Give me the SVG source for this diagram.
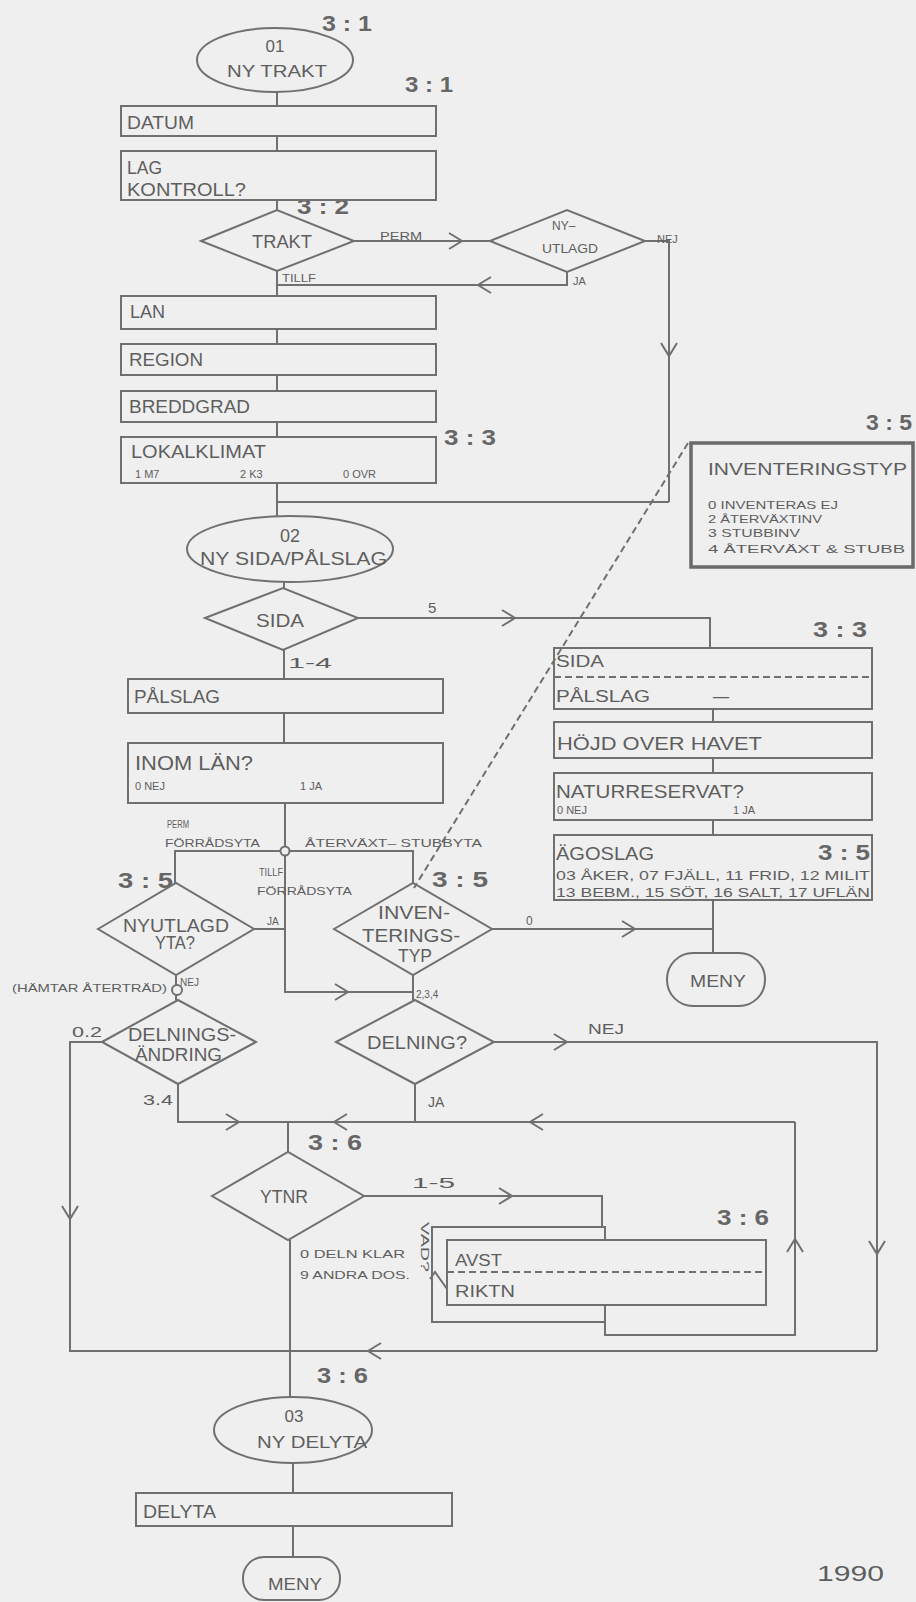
<svg xmlns="http://www.w3.org/2000/svg" width="916" height="1602" viewBox="0 0 916 1602">
<defs>
<style>
.ln{stroke:#707070;stroke-width:2;fill:none}
.bx{stroke:#707070;stroke-width:2;fill:none}
.bxf{stroke:#707070;stroke-width:2;fill:#efefef}
.dash{stroke:#707070;stroke-width:2;fill:none;stroke-dasharray:7 4}
.t{font-family:"Liberation Sans",Arial,sans-serif;fill:#5e5e5e}
.b{font-size:18px}
.s{font-size:11px}
.m{font-size:15px}
.r{font-family:"Liberation Sans",Arial,sans-serif;font-size:22px;font-weight:bold;fill:#666}
.mid{text-anchor:middle}
</style>
<path id="chev" d="M-7,-8 L6,0 L-7,8" fill="none" stroke="#707070" stroke-width="2"/>
</defs>
<rect width="916" height="1602" fill="#efefef"/>

<g id="connectors">
<path class="ln" d="M277,92V106 M277,136V151 M277,200V210"/>
<path class="ln" d="M354,241H490"/>
<path class="ln" d="M645,241H669V502"/>
<path class="ln" d="M567,272V285H277"/>
<path class="ln" d="M277,271V296 M277,329V344 M277,375V391 M277,422V437 M277,483V516"/>
<path class="ln" d="M277,502H669"/>
<path class="ln" d="M284,582V588"/>
<path class="ln" d="M358,618H710V648"/>
<path class="ln" d="M284,650V679 M284,713V743"/>
<path class="ln" d="M285,803V992H413"/>
<path class="ln" d="M175,883V851H413V883"/>
<path class="ln" d="M254,929H285"/>
<path class="ln" d="M176,975V1000"/>
<path class="ln" d="M413,975V1000"/>
<path class="ln" d="M492,929H713"/>
<path class="ln" d="M713,900V953 M713,709V722 M713,758V773 M713,820V835"/>
<path class="ln" d="M102,1042H70V1351H877"/>
<path class="ln" d="M178,1084V1122H795"/>
<path class="ln" d="M415,1084V1122"/>
<path class="ln" d="M494,1042H877V1351"/>
<path class="ln" d="M288,1122V1152"/>
<path class="ln" d="M364,1196H602V1227"/>
<path class="ln" d="M605,1305V1335H795V1122"/>
<path class="ln" d="M290,1240V1397"/>
<path class="ln" d="M293,1462V1493 M293,1526V1557"/>
<path class="dash" d="M688,443L414,888"/>
<circle cx="285" cy="851" r="4.5" fill="#efefef" stroke="#707070" stroke-width="2"/>
<circle cx="177" cy="990" r="5" fill="#efefef" stroke="#707070" stroke-width="2"/>
<use href="#chev" transform="translate(456,241)"/>
<use href="#chev" transform="translate(484,285) rotate(180)"/>
<use href="#chev" transform="translate(669,350) rotate(90)"/>
<use href="#chev" transform="translate(509,618)"/>
<use href="#chev" transform="translate(342,992)"/>
<use href="#chev" transform="translate(629,929)"/>
<use href="#chev" transform="translate(561,1042)"/>
<use href="#chev" transform="translate(233,1122)"/>
<use href="#chev" transform="translate(340,1122) rotate(180)"/>
<use href="#chev" transform="translate(536,1122) rotate(180)"/>
<use href="#chev" transform="translate(506,1196)"/>
<use href="#chev" transform="translate(795,1245) rotate(-90)"/>
<use href="#chev" transform="translate(877,1248) rotate(90)"/>
<use href="#chev" transform="translate(70,1213) rotate(90)"/>
<use href="#chev" transform="translate(374,1351) rotate(180)"/>
<path class="ln" d="M430,1279L435,1272L447,1289"/>
</g>

<g id="edge-labels">
<text class="t" x="380" y="240" font-size="11" textLength="42" lengthAdjust="spacingAndGlyphs">PERM</text>
<text class="t s" x="657" y="243">NEJ</text>
<text class="t s" x="573" y="285">JA</text>
<text class="t" x="282" y="282" font-size="10" textLength="34" lengthAdjust="spacingAndGlyphs">TILLF</text>
<text class="t m" x="428" y="613">5</text>
<text class="t m" x="288" y="668" textLength="44" lengthAdjust="spacingAndGlyphs">1-4</text>
<text class="t" x="167" y="828" font-size="10" textLength="22" lengthAdjust="spacingAndGlyphs">PERM</text>
<text class="t" x="165" y="847" font-size="10.5" textLength="95" lengthAdjust="spacingAndGlyphs">FÖRRÅDSYTA</text>
<text class="t" x="305" y="847" font-size="10.5" textLength="177" lengthAdjust="spacingAndGlyphs">ÅTERVÄXT– STUBBYTA</text>
<text class="t" x="259" y="876" font-size="10" textLength="24" lengthAdjust="spacingAndGlyphs">TILLF</text>
<text class="t" x="257" y="895" font-size="10.5" textLength="95" lengthAdjust="spacingAndGlyphs">FÖRRÅDSYTA</text>
<text class="t" x="267" y="925" font-size="10">JA</text>
<text class="t" x="180" y="986" font-size="10">NEJ</text>
<text class="t s" x="12" y="992" textLength="155" lengthAdjust="spacingAndGlyphs">(HÄMTAR ÅTERTRÄD)</text>
<text class="t" x="416" y="998" font-size="10">2,3,4</text>
<text class="t" x="526" y="925" font-size="12">0</text>
<text class="t m" x="72" y="1037" textLength="30" lengthAdjust="spacingAndGlyphs">0.2</text>
<text class="t m" x="143" y="1105" textLength="30" lengthAdjust="spacingAndGlyphs">3.4</text>
<text class="t" x="428" y="1107" font-size="14">JA</text>
<text class="t m" x="588" y="1034" textLength="36" lengthAdjust="spacingAndGlyphs">NEJ</text>
<text class="t m" x="412" y="1188" textLength="43" lengthAdjust="spacingAndGlyphs">1-5</text>
<text class="t s" x="300" y="1258" textLength="105" lengthAdjust="spacingAndGlyphs">0 DELN KLAR</text>
<text class="t s" x="300" y="1279" textLength="110" lengthAdjust="spacingAndGlyphs">9 ANDRA DOS.</text>
<text class="t" font-size="10" transform="translate(421,1222) rotate(90)" textLength="50" lengthAdjust="spacingAndGlyphs">VAD?</text>
</g>

<g id="refs">
<text class="r" x="322" y="31" textLength="50" lengthAdjust="spacingAndGlyphs">3 : 1</text>
<text class="r" x="405" y="92" textLength="48" lengthAdjust="spacingAndGlyphs">3 : 1</text>
<text class="r" x="297" y="214" textLength="52" lengthAdjust="spacingAndGlyphs">3 : 2</text>
<text class="r" x="444" y="445" textLength="52" lengthAdjust="spacingAndGlyphs">3 : 3</text>
<text class="r" x="866" y="430" textLength="46" lengthAdjust="spacingAndGlyphs">3 : 5</text>
<text class="r" x="813" y="637" textLength="54" lengthAdjust="spacingAndGlyphs">3 : 3</text>
<text class="r" x="818" y="860" textLength="52" lengthAdjust="spacingAndGlyphs">3 : 5</text>
<text class="r" x="118" y="888" textLength="55" lengthAdjust="spacingAndGlyphs">3 : 5</text>
<text class="r" x="432" y="887" textLength="56" lengthAdjust="spacingAndGlyphs">3 : 5</text>
<text class="r" x="308" y="1150" textLength="54" lengthAdjust="spacingAndGlyphs">3 : 6</text>
<text class="r" x="717" y="1225" textLength="52" lengthAdjust="spacingAndGlyphs">3 : 6</text>
<text class="r" x="317" y="1383" textLength="51" lengthAdjust="spacingAndGlyphs">3 : 6</text>
<text class="t" x="817" y="1581" font-size="22" textLength="67" lengthAdjust="spacingAndGlyphs">1990</text>
</g>

<g id="n01">
<ellipse class="bx" cx="275" cy="60" rx="78" ry="32"/>
<text class="t mid" x="275" y="52" font-size="17">01</text>
<text class="t" x="227" y="77" font-size="17" textLength="100" lengthAdjust="spacingAndGlyphs">NY TRAKT</text>
</g>
<g id="datum">
<rect class="bx" x="121" y="106" width="315" height="30"/>
<text class="t b" x="127" y="129" textLength="67" lengthAdjust="spacingAndGlyphs">DATUM</text>
</g>
<g id="lagkontroll">
<rect class="bx" x="121" y="151" width="315" height="49"/>
<text class="t b" x="127" y="174" textLength="35" lengthAdjust="spacingAndGlyphs">LAG</text>
<text class="t b" x="127" y="196" textLength="119" lengthAdjust="spacingAndGlyphs">KONTROLL?</text>
</g>
<g id="trakt">
<polygon class="bx" points="201,241 277,210 354,241 277,271"/>
<text class="t b" x="252" y="248" textLength="60" lengthAdjust="spacingAndGlyphs">TRAKT</text>
</g>
<g id="nyutlagd">
<polygon class="bx" points="490,241 567,210 645,241 567,272"/>
<text class="t" x="552" y="230" font-size="12">NY–</text>
<text class="t" x="542" y="253" font-size="13" textLength="56" lengthAdjust="spacingAndGlyphs">UTLAGD</text>
</g>
<g id="lan">
<rect class="bx" x="121" y="296" width="315" height="33"/>
<text class="t b" x="130" y="318" textLength="35" lengthAdjust="spacingAndGlyphs">LAN</text>
</g>
<g id="region">
<rect class="bx" x="121" y="344" width="315" height="31"/>
<text class="t b" x="129" y="366" textLength="74" lengthAdjust="spacingAndGlyphs">REGION</text>
</g>
<g id="breddgrad">
<rect class="bx" x="121" y="391" width="315" height="31"/>
<text class="t b" x="129" y="413" textLength="121" lengthAdjust="spacingAndGlyphs">BREDDGRAD</text>
</g>
<g id="lokalklimat">
<rect class="bx" x="121" y="437" width="315" height="46"/>
<text class="t b" x="131" y="458" textLength="135" lengthAdjust="spacingAndGlyphs">LOKALKLIMAT</text>
<text class="t s" x="135" y="478">1 M7</text>
<text class="t s" x="240" y="478">2 K3</text>
<text class="t s" x="343" y="478">0 OVR</text>
</g>
<g id="n02">
<ellipse class="bx" cx="290" cy="549" rx="103" ry="33"/>
<text class="t mid" x="290" y="542" font-size="18">02</text>
<text class="t" x="200" y="565" font-size="19" textLength="187" lengthAdjust="spacingAndGlyphs">NY SIDA/PÅLSLAG</text>
</g>
<g id="sida">
<polygon class="bx" points="205,618 283,588 358,618 283,650"/>
<text class="t b" x="256" y="627" textLength="48" lengthAdjust="spacingAndGlyphs">SIDA</text>
</g>
<g id="palslag">
<rect class="bx" x="128" y="679" width="315" height="34"/>
<text class="t b" x="134" y="703" textLength="86" lengthAdjust="spacingAndGlyphs">PÅLSLAG</text>
</g>
<g id="inomlan">
<rect class="bx" x="128" y="743" width="315" height="60"/>
<text class="t" x="135" y="770" font-size="20" textLength="118" lengthAdjust="spacingAndGlyphs">INOM LÄN?</text>
<text class="t s" x="135" y="790">0 NEJ</text>
<text class="t s" x="300" y="790">1 JA</text>
</g>
<g id="nyutlagdyta">
<polygon class="bx" points="98,929 176,883 254,929 176,975"/>
<text class="t" x="123" y="932" font-size="19" textLength="106" lengthAdjust="spacingAndGlyphs">NYUTLAGD</text>
<text class="t" x="155" y="949" font-size="18" textLength="40" lengthAdjust="spacingAndGlyphs">YTA?</text>
</g>
<g id="inventeringstyp-val">
<polygon class="bx" points="334,929 413,883 492,929 413,975"/>
<text class="t" x="378" y="919" font-size="18" textLength="72" lengthAdjust="spacingAndGlyphs">INVEN-</text>
<text class="t" x="362" y="942" font-size="18" textLength="98" lengthAdjust="spacingAndGlyphs">TERINGS-</text>
<text class="t" x="398" y="962" font-size="18" textLength="34" lengthAdjust="spacingAndGlyphs">TYP</text>
</g>
<g id="delningsandring">
<polygon class="bx" points="102,1042 178,1000 256,1042 178,1084"/>
<text class="t" x="128" y="1041" font-size="18" textLength="108" lengthAdjust="spacingAndGlyphs">DELNINGS-</text>
<text class="t" x="135" y="1061" font-size="18" textLength="87" lengthAdjust="spacingAndGlyphs">ÄNDRING</text>
</g>
<g id="delning">
<polygon class="bx" points="336,1042 415,1000 494,1042 415,1084"/>
<text class="t" x="367" y="1049" font-size="18" textLength="100" lengthAdjust="spacingAndGlyphs">DELNING?</text>
</g>
<g id="ytnr">
<polygon class="bx" points="212,1196 288,1152 364,1196 288,1240"/>
<text class="t b" x="260" y="1203" textLength="48" lengthAdjust="spacingAndGlyphs">YTNR</text>
</g>
<g id="avst-riktn">
<rect class="bx" x="432" y="1227" width="173" height="95"/>
<rect class="bxf" x="447" y="1240" width="319" height="65"/>
<path class="dash" d="M447,1272H766"/>
<text class="t" x="455" y="1266" font-size="16" textLength="47" lengthAdjust="spacingAndGlyphs">AVST</text>
<text class="t" x="455" y="1297" font-size="16" textLength="60" lengthAdjust="spacingAndGlyphs">RIKTN</text>
</g>
<g id="n03">
<ellipse class="bx" cx="293" cy="1430" rx="79" ry="33"/>
<text class="t mid" x="294" y="1422" font-size="17">03</text>
<text class="t" x="257" y="1448" font-size="17" textLength="110" lengthAdjust="spacingAndGlyphs">NY DELYTA</text>
</g>
<g id="delyta">
<rect class="bx" x="136" y="1493" width="316" height="33"/>
<text class="t b" x="143" y="1518" textLength="73" lengthAdjust="spacingAndGlyphs">DELYTA</text>
</g>
<g id="meny-2">
<rect class="bx" x="243" y="1557" width="97" height="43" rx="21"/>
<text class="t" x="268" y="1590" font-size="17" textLength="54" lengthAdjust="spacingAndGlyphs">MENY</text>
</g>

<g id="inventeringstyp-info">
<rect x="691" y="443" width="222" height="124" fill="none" stroke="#6a6a6a" stroke-width="3.5"/>
<text class="t" x="708" y="475" font-size="17" textLength="199" lengthAdjust="spacingAndGlyphs">INVENTERINGSTYP</text>
<text class="t s" x="708" y="509" textLength="130" lengthAdjust="spacingAndGlyphs">0 INVENTERAS EJ</text>
<text class="t s" x="708" y="523" textLength="114" lengthAdjust="spacingAndGlyphs">2 ÅTERVÄXTINV</text>
<text class="t s" x="708" y="537" textLength="92" lengthAdjust="spacingAndGlyphs">3 STUBBINV</text>
<text class="t s" x="708" y="553" textLength="197" lengthAdjust="spacingAndGlyphs">4 ÅTERVÄXT &amp; STUBB</text>
</g>
<g id="sida-palslag">
<rect class="bx" x="554" y="648" width="318" height="61"/>
<path class="dash" d="M554,677H872"/>
<text class="t" x="556" y="667" font-size="16" textLength="48" lengthAdjust="spacingAndGlyphs">SIDA</text>
<text class="t" x="556" y="702" font-size="16" textLength="94" lengthAdjust="spacingAndGlyphs">PÅLSLAG</text>
<text class="t" x="713" y="702" font-size="16">—</text>
</g>
<g id="hojd">
<rect class="bx" x="554" y="722" width="318" height="36"/>
<text class="t b" x="557" y="750" textLength="205" lengthAdjust="spacingAndGlyphs">HÖJD OVER HAVET</text>
</g>
<g id="naturreservat">
<rect class="bx" x="554" y="773" width="318" height="47"/>
<text class="t b" x="556" y="798" textLength="188" lengthAdjust="spacingAndGlyphs">NATURRESERVAT?</text>
<text class="t s" x="557" y="814">0 NEJ</text>
<text class="t s" x="733" y="814">1 JA</text>
</g>
<g id="agoslag">
<rect class="bx" x="554" y="835" width="318" height="65"/>
<text class="t" x="556" y="860" font-size="19" textLength="98" lengthAdjust="spacingAndGlyphs">ÄGOSLAG</text>
<text class="t" x="556" y="880" font-size="13" textLength="314" lengthAdjust="spacingAndGlyphs">03 ÅKER, 07 FJÄLL, 11 FRID, 12 MILIT</text>
<text class="t" x="556" y="897" font-size="13" textLength="314" lengthAdjust="spacingAndGlyphs">13 BEBM., 15 SÖT, 16 SALT, 17 UFLÄN</text>
</g>
<g id="meny-1">
<rect class="bx" x="667" y="953" width="98" height="53" rx="26"/>
<text class="t" x="690" y="987" font-size="17" textLength="56" lengthAdjust="spacingAndGlyphs">MENY</text>
</g>
</svg>
